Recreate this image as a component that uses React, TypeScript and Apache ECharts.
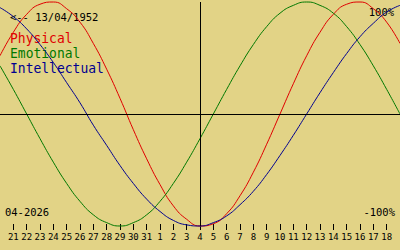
import React, { useEffect, useRef } from 'react';
import * as echarts from 'echarts';

// Day-of-month categories, 20 Mar 2026 .. 19 Apr 2026 (first & last only carry the curves to the edges)
const days = ['20', '21', '22', '23', '24', '25', '26', '27', '28', '29', '30', '31', '1', '2', '3', '4', '5', '6', '7', '8', '9', '10', '11', '12', '13', '14', '15', '16', '17', '18', '19'];

const physical = [0.52, 0.73, 0.89, 0.98, 1.0, 0.94, 0.82, 0.63, 0.4, 0.14, -0.14, -0.4, -0.63, -0.82, -0.94, -1.0, -0.98, -0.89, -0.73, -0.52, -0.27, 0, 0.27, 0.52, 0.73, 0.89, 0.98, 1.0, 0.94, 0.82, 0.63];
const emotional = [0.43, 0.22, 0, -0.22, -0.43, -0.62, -0.78, -0.9, -0.97, -1.0, -0.97, -0.9, -0.78, -0.62, -0.43, -0.22, 0, 0.22, 0.43, 0.62, 0.78, 0.9, 0.97, 1.0, 0.97, 0.9, 0.78, 0.62, 0.43, 0.22, 0];
const intellectual = [0.95, 0.87, 0.76, 0.62, 0.46, 0.28, 0.1, -0.1, -0.28, -0.46, -0.62, -0.76, -0.87, -0.95, -0.99, -1.0, -0.97, -0.91, -0.81, -0.69, -0.54, -0.37, -0.19, 0, 0.19, 0.37, 0.54, 0.69, 0.81, 0.91, 0.97];

const seriesNames = ['Physical', 'Emotional', 'Intellectual'];
const seriesColors = ['#e00000', '#007800', '#000090'];
const seriesData = [physical, emotional, intellectual];

const todayCategory = '4';
const birthLabel = '<-- 13/04/1952';
const monthLabel = '04-2026';
const topLabel = '100%';
const bottomLabel = '-100%';

const MONO = '"DejaVu Sans Mono", "Liberation Mono", monospace';
const BG = '#e2d386';

export default function App() {
  const ref = useRef<HTMLDivElement>(null);

  useEffect(() => {
    if (!ref.current) return;
    const chart = echarts.init(ref.current, undefined, { renderer: 'svg' });
    const inner = (i: number) => i > 0 && i < days.length - 1;

    const series: any[] = seriesNames.map((name, k) => ({
      name,
      type: 'line',
      data: seriesData[k],
      smooth: true,
      symbol: 'none',
      clip: false,
      silent: true,
      lineStyle: { color: seriesColors[k], width: 1 },
      itemStyle: { color: seriesColors[k] },
    }));
    series[0].markLine = {
      silent: true,
      symbol: 'none',
      label: { show: false },
      lineStyle: { color: '#000', width: 1, type: 'solid' },
      data: [{ xAxis: todayCategory }, { yAxis: 0 }],
    };

    const legendTexts = seriesNames.map((name, k) => ({
      type: 'text',
      x: 10,
      y: 38 + k * 15,
      scaleY: 1.12,
      style: {
        text: name,
        fill: seriesColors[k],
        font: `13px ${MONO}`,
        verticalAlign: 'middle',
      },
    }));

    chart.setOption({
      animation: false,
      backgroundColor: BG,
      grid: { left: 0, right: 0, top: 2, bottom: 24 },
      xAxis: {
        type: 'category',
        data: days,
        boundaryGap: false,
        offset: -2,
        axisLine: { show: false, onZero: false },
        axisTick: { show: true, interval: (i: number) => inner(i), length: 6, lineStyle: { color: '#000', width: 1 } },
        axisLabel: {
          interval: (i: number) => inner(i),
          color: '#000',
          fontFamily: MONO,
          fontSize: 9,
          margin: 8,
        },
        splitLine: { show: false },
      },
      yAxis: {
        type: 'value',
        min: -1,
        max: 1,
        show: false,
        splitLine: { show: false },
      },
      series,
      graphic: [
        {
          type: 'text', x: 10, y: 17, scaleY: 1.08,
          style: { text: birthLabel, fill: '#000', font: `10.5px ${MONO}`, verticalAlign: 'middle' },
        },
        ...legendTexts,
        {
          type: 'text', x: 5, y: 212, scaleY: 1.08,
          style: { text: monthLabel, fill: '#000', font: `10.5px ${MONO}`, verticalAlign: 'middle' },
        },
        {
          type: 'text', x: 395, y: 212, scaleY: 1.08,
          style: { text: bottomLabel, fill: '#000', font: `10.5px ${MONO}`, verticalAlign: 'middle', align: 'right' },
        },
        {
          type: 'text', x: 394, y: 12, scaleY: 1.08,
          style: { text: topLabel, fill: '#000', font: `10.5px ${MONO}`, verticalAlign: 'middle', align: 'right' },
        },
      ],
    });

    return () => chart.dispose();
  }, []);

  return <div ref={ref} style={{ position: 'fixed', left: 0, top: 0, width: 400, height: 250 }} />;
}
